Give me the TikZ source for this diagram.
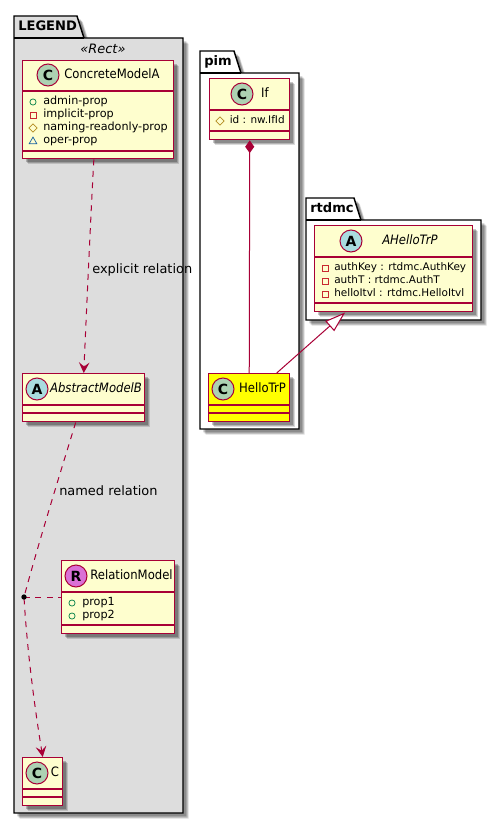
\documentclass[tikz,border=0pt]{standalone}
\usepackage{fontspec}
\setmainfont{DejaVu Sans}
\newfontfamily\namefont[FakeStretch=.9]{DejaVu Sans}
\usetikzlibrary{arrows.meta,shapes.geometric,shadows}
\definecolor{umlline}{HTML}{A80036}
\definecolor{umlfill}{HTML}{FEFECE}
\definecolor{legendbg}{HTML}{DDDDDD}
\definecolor{hellofill}{HTML}{FFFF00}
\definecolor{spotc}{HTML}{ADD1B2}
\definecolor{spota}{HTML}{A9DCDF}
\definecolor{spotr}{HTML}{DA70D6}
\definecolor{vispublic}{HTML}{038048}
\definecolor{visprivate}{HTML}{C82930}
\definecolor{visprotected}{HTML}{B38D22}
\definecolor{vispackage}{HTML}{1963A0}
\tikzset{
  softshadow/.style={
    general shadow={shadow xshift=4.2pt,shadow yshift=-4.2pt,fill=black,opacity=.14},
    general shadow={shadow xshift=3.4pt,shadow yshift=-3.4pt,fill=black,opacity=.18},
    general shadow={shadow xshift=2.6pt,shadow yshift=-2.6pt,fill=black,opacity=.22}},
  classbox/.style={draw=umlline,line width=1.1pt,fill=umlfill,softshadow,inner sep=0pt,anchor=north west},
  spot/.style={circle,draw=umlline,line width=.75pt,minimum size=16.5pt,inner sep=0pt,font=\fontsize{10.5}{12}\bfseries},
  classname/.style={font=\fontsize{9.7}{12}\namefont,inner sep=0pt,text height=7.5pt,text depth=2pt},
  italicname/.style={font=\fontsize{9.7}{12}\namefont\itshape,inner sep=0pt,text height=7.5pt,text depth=2pt},
  member/.style={font=\fontsize{8.4}{10}\selectfont,inner sep=0pt,anchor=west,text height=6pt,text depth=2pt},
  typedmember/.style={member,font=\fontsize{7.85}{10}\selectfont},
  divider/.style={draw=umlline,line width=1.1pt},
  packagebody/.style={draw=black,line width=1.1pt,softshadow},
  packageline/.style={draw=black,line width=1.1pt},
  packagename/.style={font=\fontsize{9.8}{12}\bfseries,inner sep=0pt,anchor=west,text height=7.5pt,text depth=2pt},
  relname/.style={font=\fontsize{9.7}{12}\selectfont,inner sep=0pt,anchor=west,text height=7.5pt,text depth=2pt},
  pubicon/.style={circle,draw=vispublic,line width=.55pt,minimum size=4.6pt,inner sep=0pt},
  priicon/.style={rectangle,draw=visprivate,line width=.55pt,minimum size=4.6pt,inner sep=0pt},
  proicon/.style={diamond,draw=visprotected,line width=.55pt,minimum size=6.4pt,inner sep=0pt},
  pkgicon/.style={regular polygon,regular polygon sides=3,draw=vispackage,line width=.55pt,minimum size=6.6pt,inner sep=0pt},
  dep/.style={draw=umlline,line width=.75pt,dash pattern=on 4.4pt off 4.2pt,-{Stealth[length=8pt,width=8pt,inset=3.2pt,fill=umlline]}},
  assoc/.style={draw=umlline,line width=.75pt},
}
\begin{document}
\begin{tikzpicture}[x=.75pt,y=-.75pt]
\useasboundingbox (0,0) rectangle (501,824);

% packages
\draw[packagebody,fill=legendbg] (14,38) -- (14,16) -- (77,16) -- (84,38) -- (183,38) -- (183,813) -- (14,813) -- cycle;
\draw[packageline] (14,38) -- (84,38);
\node[packagename] (legendname) at (18,27) {LEGEND};
\node[font=\fontsize{9.7}{12}\itshape,inner sep=0pt] (legendstereo) at (103,49) {«Rect»};

\draw[packagebody,fill=white] (200,73) -- (200,51) -- (234,51) -- (241,73) -- (299,73) -- (299,429) -- (200,429) -- cycle;
\draw[packageline] (200,73) -- (241,73);
\node[packagename] (pimname) at (204,62) {pim};

\draw[packagebody,fill=white] (306,220) -- (306,198) -- (354,198) -- (361,220) -- (481,220) -- (481,320) -- (306,320) -- cycle;
\draw[packageline] (306,220) -- (361,220);
\node[packagename] (rtdmcname) at (310,209) {rtdmc};

% LEGEND classes
\node[classbox,minimum width=113.2pt,minimum height=73.5pt] (concrete) at (22,60) {};
\draw[divider] (22,91) -- (173,91);
\draw[divider] (22,151) -- (173,151);
\node[spot,fill=spotc] (concretespot) at (48,75) {C};
\node[classname] (concretename) at (112,75) {ConcreteModelA};
\node[pubicon] (adminicon) at (33,102) {};
\node[priicon] (impliciticon) at (33,115) {};
\node[proicon] (namingicon) at (33,128) {};
\node[pkgicon] (opericon) at (33,141.5) {};
\node[member] (admin) at (43,102) {admin-prop};
\node[member] (implicit) at (43,115) {implicit-prop};
\node[member] (naming) at (43,128) {naming-readonly-prop};
\node[member] (oper) at (43,141) {oper-prop};

\node[classbox,minimum width=91.5pt,minimum height=36pt] (abstract) at (22,373) {};
\draw[divider] (22,405) -- (144,405);
\draw[divider] (22,413) -- (144,413);
\node[spot,fill=spota] (abstractspot) at (37,389) {A};
\node[italicname] (abstractname) at (96,389) {AbstractModelB};

\node[classbox,minimum width=84.7pt,minimum height=54.7pt] (relation) at (61,560) {};
\draw[divider] (61,592) -- (174,592);
\draw[divider] (61,625) -- (174,625);
\node[spot,fill=spotr] (relationspot) at (76,576) {R};
\node[classname] (relationname) at (131.5,576) {RelationModel};
\node[pubicon] (prop1icon) at (72,603) {};
\node[pubicon] (prop2icon) at (72,616) {};
\node[member] (prop1) at (82,603) {prop1};
\node[member] (prop2) at (82,616) {prop2};

\node[classbox,minimum width=30pt,minimum height=36pt] (cclass) at (22,757) {};
\draw[divider] (22,789) -- (62,789);
\draw[divider] (22,797) -- (62,797);
\node[spot,fill=spotc] (cspot) at (37,773) {C};
\node[classname] (cname) at (55,773) {C};

% pim classes
\node[classbox,minimum width=60pt,minimum height=45.7pt] (ifclass) at (209,78) {};
\draw[divider] (209,110) -- (289,110);
\draw[divider] (209,131) -- (289,131);
\node[spot,fill=spotc] (ifspot) at (242,94) {C};
\node[classname] (ifname) at (265,94) {If};
\node[proicon] (idicon) at (220,121) {};
\node[typedmember] (idprop) at (229.5,121) {id : nw.IfId};

\node[classbox,minimum width=60.75pt,minimum height=36pt,fill=hellofill] (hello) at (208,373) {};
\draw[divider] (208,405) -- (289,405);
\draw[divider] (208,413) -- (289,413);
\node[spot,fill=spotc] (hellospot) at (223,389) {C};
\node[classname] (helloname) at (262.5,389) {HelloTrP};

% rtdmc classes
\node[classbox,minimum width=118.5pt,minimum height=64.5pt] (ahello) at (314,225) {};
\draw[divider] (314,257) -- (472,257);
\draw[divider] (314,303) -- (472,303);
\node[spot,fill=spota] (ahellospot) at (351,241) {A};
\node[italicname] (ahelloname) at (410,241) {AHelloTrP};
\node[priicon] (authkeyicon) at (325,268) {};
\node[priicon] (authticon) at (325,281) {};
\node[priicon] (helloicon) at (325,294) {};
\node[typedmember] (authkey) at (334,268) {authKey : rtdmc.AuthKey};
\node[typedmember] (autht) at (334,281) {authT : rtdmc.AuthT};
\node[typedmember] (helloitvl) at (334,294) {helloItvl : rtdmc.HelloItvl};

% relations
\coordinate (reldot) at (24,597);
\draw[dep] (concrete.265) .. controls (91,210) and (87,300) .. (abstract.north);
\draw[dep] (abstract.252) .. controls (58,480) and (38,545) .. (reldot) .. controls (27,650) and (35,710) .. (cclass.north);
\draw[assoc,dash pattern=on 4.4pt off 4.2pt] (reldot) -- (relation.west |- reldot);
\fill[black] (reldot) circle (2pt);
\node[relname] (explicitlabel) at (92,270) {explicit relation};
\node[relname] (namedlabel) at (59,492) {named relation};

\draw[assoc,{Diamond[length=9.5pt,width=6.8pt,fill=umlline]}-] (ifclass.south) -- (hello.north);
\draw[assoc,-{Triangle[open,length=15.5pt,width=10pt,fill=white]}] (hello.42) -- (ahello.222);

\end{tikzpicture}
\end{document}
